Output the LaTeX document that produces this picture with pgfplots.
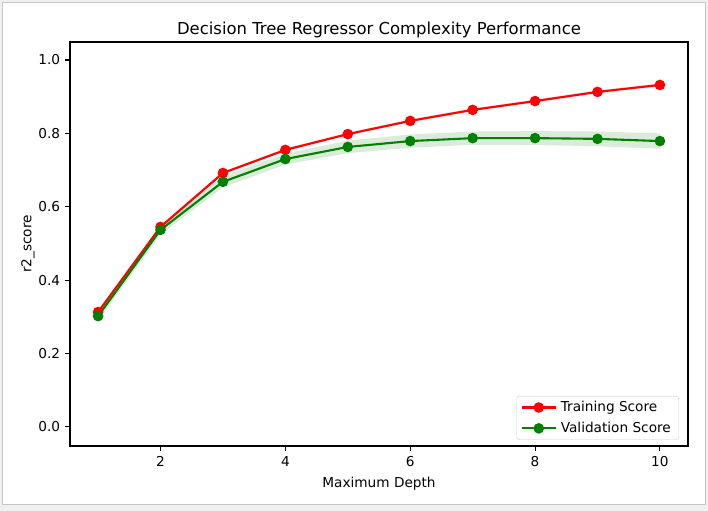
\documentclass[border=0pt]{standalone}
\usepackage{pgfplots}
\pgfplotsset{compat=1.18}
\usepackage{fontspec}
\setmainfont{DejaVu Sans}
\definecolor{mplred}{rgb}{1,0,0}
\definecolor{mplgreen}{rgb}{0,0.5,0}
\definecolor{legframe}{rgb}{0.8,0.8,0.8}
\begin{document}
\begin{tikzpicture}
\fill[black!6] (0bp,0bp) rectangle (708bp,511bp);
\filldraw[fill=white,draw=black!22,line width=1.2bp] (2.5bp,6.5bp) rectangle (705.5bp,508.5bp);
\begin{axis}[
  at={(70bp,65bp)}, anchor=south west,
  width=618bp, height=404bp, scale only axis,
  xmin=0.55, xmax=10.45, ymin=-0.052, ymax=1.049,
  xtick={2,4,6,8,10}, ytick={0,0.2,0.4,0.6,0.8,1.0},
  /pgf/number format/assume math mode=true,
  tick align=outside, major tick length=4.9bp,
  tick style={black, line width=1.1bp},
  xtick pos=bottom, ytick pos=left,
  axis line style={line width=1.1bp},
  ticklabel style={font=\fontsize{13.7}{14}\selectfont},
  xticklabel style={yshift=-2bp},
  yticklabel style={xshift=-1.5bp, /pgf/number format/.cd,fixed,fixed zerofill,precision=1},
  label style={font=\fontsize{13.7}{14}\selectfont},
  title style={font=\fontsize{16.5}{18}\selectfont, yshift=-5bp},
  title={Decision Tree Regressor Complexity Performance},
  xlabel={Maximum Depth}, ylabel={r2\_score},
  xlabel style={yshift=-4bp}, ylabel style={yshift=-3bp},
  legend style={font=\fontsize{13.7}{14}\selectfont, draw=legframe, rounded corners=3bp,
    at={(1,0)}, xshift=-9bp, yshift=6bp, anchor=south east, inner xsep=4bp, inner ysep=3.5bp, row sep=5bp,
    nodes={inner xsep=4bp}},
  legend cell align=left,
  legend image code/.code={
    \draw[#1, line width=2.1bp] (0bp,0bp) -- (34bp,0bp);
    \fill[#1] (17bp,0bp) circle (4.2bp);
  },
]
% training band (mean +/- std): upper edge then lower edge reversed
\addplot[fill=mplred, fill opacity=0.15, draw=none, forget plot] coordinates {
(1,0.317) (2,0.549) (3,0.696) (4,0.759) (5,0.802) (6,0.838) (7,0.868) (8,0.892) (9,0.917) (10,0.936)
(10,0.928) (9,0.909) (8,0.884) (7,0.860) (6,0.830) (5,0.794) (4,0.751) (3,0.688) (2,0.541) (1,0.309)
} -- cycle;
% validation band
\addplot[fill=mplgreen, fill opacity=0.15, draw=none, forget plot] coordinates {
(1,0.314) (2,0.550) (3,0.683) (4,0.745) (5,0.780) (6,0.797) (7,0.805) (8,0.806) (9,0.805) (10,0.800)
(10,0.758) (9,0.765) (8,0.768) (7,0.769) (6,0.761) (5,0.746) (4,0.715) (3,0.653) (2,0.524) (1,0.290)
} -- cycle;
\addplot[mplred, line width=2.1bp, mark=*, mark size=4.2bp, mark options={solid, fill=mplred, draw=mplred}] coordinates {
(1,0.313) (2,0.545) (3,0.692) (4,0.755) (5,0.798) (6,0.834) (7,0.864) (8,0.888) (9,0.913) (10,0.932)
};
\addlegendentry{Training Score}
\addplot[mplgreen, line width=2.1bp, mark=*, mark size=4.2bp, mark options={solid, fill=mplgreen, draw=mplgreen}] coordinates {
(1,0.302) (2,0.537) (3,0.668) (4,0.730) (5,0.763) (6,0.779) (7,0.787) (8,0.787) (9,0.785) (10,0.779)
};
\addlegendentry{Validation Score}
\end{axis}
\end{tikzpicture}
\end{document}
